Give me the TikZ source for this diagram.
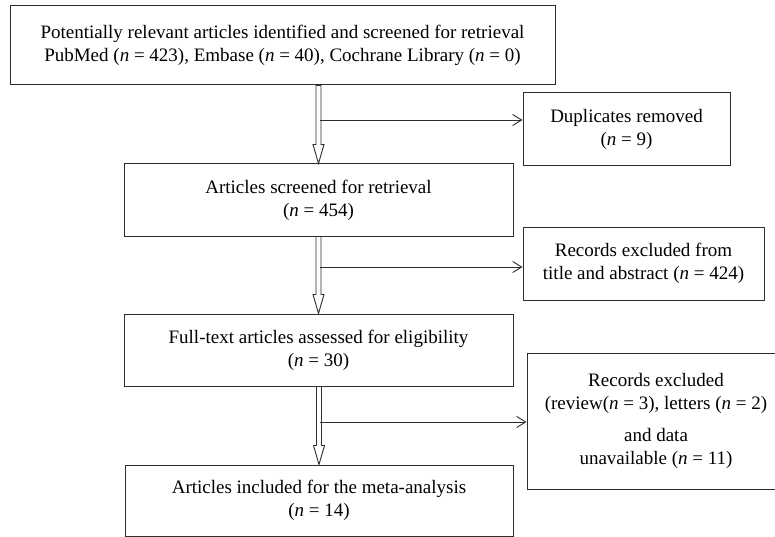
\documentclass[tikz,border=0pt]{standalone}
\usepackage{fontspec}
\setmainfont{Liberation Serif}
\usetikzlibrary{arrows.meta,calc}
\definecolor{edge}{RGB}{45,45,45}

\newcommand{\hollowdown}[2]{%
  \draw[hollow] ($(#1.south -| #2.north)+(-2.5,0)$) -- ($(#2.north)+(-2.5,-19)$)
    -- ($(#2.north)+(-5.5,-19)$) -- (#2.north) -- ($(#2.north)+(5.5,-19)$)
    -- ($(#2.north)+(2.5,-19)$) -- ($(#1.south -| #2.north)+(2.5,0)$) -- cycle;}

\begin{document}
\begin{tikzpicture}[x=1pt, y=-1pt,
    >={Straight Barb[length=9pt,width=11pt]},
    box/.style={draw=edge, line width=1pt, rectangle, align=center, inner sep=2pt,
      font=\fontsize{19}{23}\selectfont},
    hollow/.style={draw=edge, line width=0.9pt, fill=white},
    side/.style={draw=edge, line width=0.9pt, ->}]
    \useasboundingbox (0,0) rectangle (775,537);

    \node[box, minimum width=545pt, minimum height=79pt] (src) at (282.5,45.5)
        {Potentially relevant articles identified and screened for retrieval\\
         PubMed (\textit{n} = 423), Embase (\textit{n} = 40), Cochrane Library (\textit{n} = 0)};
    \node[box, minimum width=207pt, minimum height=73pt] (dup) at (626.5,129.5)
        {Duplicates removed\\(\textit{n} = 9)};
    \node[box, minimum width=389pt, minimum height=72pt] (scr) at (318.5,200)
        {Articles screened for retrieval\\(\textit{n} = 454)};
    \node[box, minimum width=241pt, minimum height=73pt] (exa) at (643.5,263.5)
        {Records excluded from\\title and abstract (\textit{n} = 424)};
    \node[box, minimum width=389pt, minimum height=72pt] (full) at (318.5,350)
        {Full-text articles assessed for eligibility\\(\textit{n} = 30)};
    \node[box, minimum width=258pt, minimum height=136pt] (exb) at (656,421)
        {Records excluded\\(review(\textit{n} = 3), letters (\textit{n} = 2)\\[9pt]
         and data\\unavailable (\textit{n} = 11)};
    \node[box, minimum width=388pt, minimum height=71pt] (inc) at (319,500.5)
        {Articles included for the meta-analysis\\(\textit{n} = 14)};

    \hollowdown{src}{scr}
    \hollowdown{scr}{full}
    \hollowdown{full}{inc}

    \coordinate (b1) at (320,120);
    \coordinate (b2) at (320,267);
    \coordinate (b3) at (320,422);
    \draw[side] (b1) -- (b1 -| dup.west);
    \draw[side] (b2) -- (b2 -| exa.west);
    \draw[side] (b3) -- (b3 -| exb.west);
\end{tikzpicture}
\end{document}
